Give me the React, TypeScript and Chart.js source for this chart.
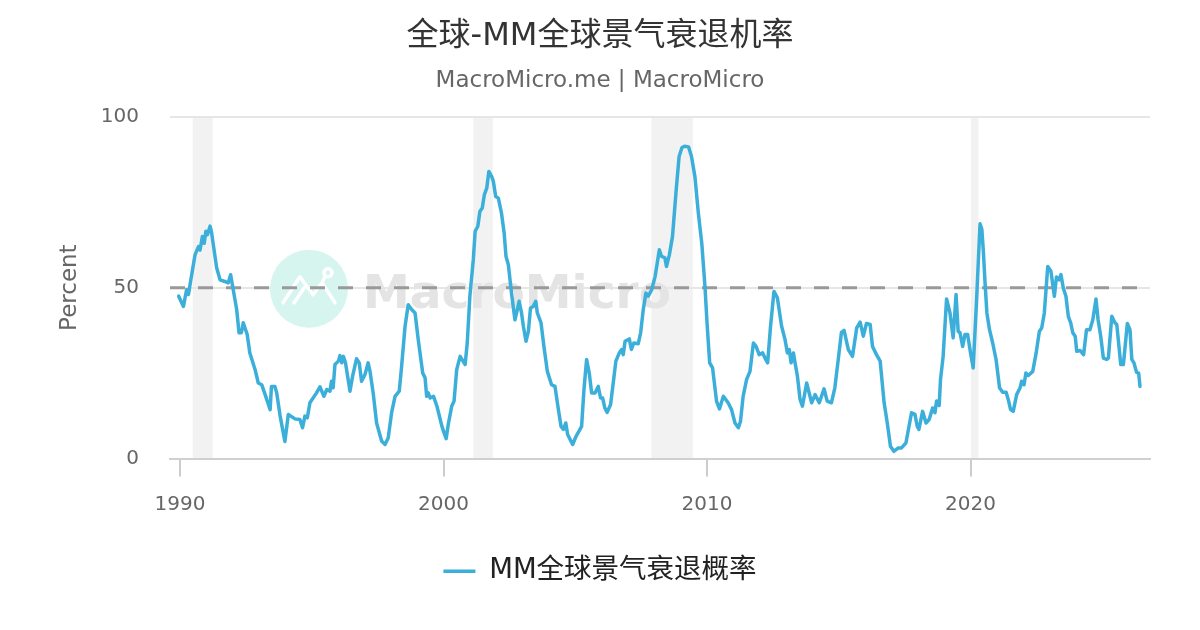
import { useEffect, useRef } from "react";
import Chart from "chart.js/auto";

// ─── Data ─────────────────────────────────────────────────────────────────────
const FONT = "'DejaVu Sans', 'Noto Sans CJK SC', sans-serif";

// decimal years
const dates = [
  1989.95, 1990.13, 1990.25, 1990.32, 1990.4, 1990.57, 1990.7, 1990.76, 1990.85, 1990.92,
  1990.98, 1991.04, 1991.14, 1991.2, 1991.39, 1991.52, 1991.7, 1991.83, 1991.92, 1992.02,
  1992.15, 1992.24, 1992.33, 1992.4, 1992.55, 1992.65, 1992.85, 1992.97, 1993.1, 1993.23,
  1993.42, 1993.47, 1993.6, 1993.67, 1993.8, 1993.98, 1994.11, 1994.36, 1994.55, 1994.65,
  1994.74, 1994.83, 1994.93, 1995.18, 1995.31, 1995.46, 1995.57, 1995.69, 1995.75, 1995.81,
  1995.88, 1996.01, 1996.07, 1996.14, 1996.2, 1996.28, 1996.45, 1996.55, 1996.7, 1996.8,
  1996.89, 1997.02, 1997.14, 1997.21, 1997.33, 1997.46, 1997.65, 1997.78, 1997.9, 1998.03,
  1998.16, 1998.32, 1998.41, 1998.54, 1998.66, 1998.79, 1998.92, 1999.04, 1999.21, 1999.3,
  1999.36, 1999.42, 1999.49, 1999.62, 1999.75, 1999.94, 2000.02, 2000.1, 2000.18, 2000.31,
  2000.4, 2000.5, 2000.63, 2000.82, 2000.9, 2001.0, 2001.13, 2001.2, 2001.3, 2001.38,
  2001.47, 2001.55, 2001.64, 2001.72, 2001.83, 2001.89, 2001.98, 2002.08, 2002.2, 2002.3,
  2002.37, 2002.46, 2002.58, 2002.71, 2002.8, 2002.87, 2002.96, 2003.03, 2003.13, 2003.22,
  2003.3, 2003.4, 2003.5, 2003.56, 2003.7, 2003.81, 2003.94, 2004.1, 2004.23, 2004.36,
  2004.46, 2004.55, 2004.64, 2004.71, 2004.9, 2005.03, 2005.24, 2005.33, 2005.43, 2005.53,
  2005.62, 2005.75, 2005.87, 2005.96, 2006.04, 2006.12, 2006.21, 2006.34, 2006.44, 2006.54,
  2006.67, 2006.76, 2006.82, 2006.89, 2007.05, 2007.13, 2007.22, 2007.39, 2007.48, 2007.58,
  2007.68, 2007.77, 2007.9, 2008.03, 2008.19, 2008.27, 2008.4, 2008.46, 2008.57, 2008.69,
  2008.82, 2008.94, 2009.05, 2009.15, 2009.3, 2009.41, 2009.54, 2009.67, 2009.8, 2009.92,
  2010.0, 2010.1, 2010.21, 2010.36, 2010.47, 2010.62, 2010.8, 2010.93, 2011.06, 2011.19,
  2011.27, 2011.37, 2011.5, 2011.63, 2011.76, 2011.86, 2011.98, 2012.11, 2012.2, 2012.3,
  2012.41, 2012.54, 2012.67, 2012.83, 2012.96, 2013.05, 2013.12, 2013.19, 2013.28, 2013.34,
  2013.43, 2013.53, 2013.62, 2013.78, 2013.97, 2014.1, 2014.26, 2014.44, 2014.56, 2014.72,
  2014.85, 2014.98, 2015.1, 2015.2, 2015.36, 2015.52, 2015.68, 2015.81, 2015.93, 2016.05,
  2016.19, 2016.28, 2016.43, 2016.57, 2016.72, 2016.84, 2016.96, 2017.09, 2017.26, 2017.38,
  2017.55, 2017.76, 2017.89, 2017.98, 2018.04, 2018.18, 2018.31, 2018.43, 2018.56, 2018.65,
  2018.71, 2018.81, 2018.86, 2018.96, 2019.09, 2019.22, 2019.34, 2019.45, 2019.53, 2019.6,
  2019.7, 2019.79, 2019.89, 2020.0, 2020.1, 2020.23, 2020.36, 2020.43, 2020.49, 2020.55,
  2020.62, 2020.72, 2020.84, 2020.97, 2021.1, 2021.22, 2021.35, 2021.43, 2021.52, 2021.62,
  2021.75, 2021.88, 2021.94, 2022.03, 2022.1, 2022.19, 2022.36, 2022.49, 2022.61, 2022.7,
  2022.8, 2022.93, 2023.05, 2023.18, 2023.26, 2023.36, 2023.43, 2023.52, 2023.62, 2023.71,
  2023.8, 2023.88, 2023.97, 2024.03, 2024.16, 2024.29, 2024.4, 2024.53, 2024.64, 2024.76,
  2024.84, 2024.94, 2025.04, 2025.17, 2025.23, 2025.36, 2025.48, 2025.55, 2025.7, 2025.8,
  2025.95, 2026.05, 2026.12, 2026.2, 2026.3, 2026.38, 2026.43,
];

const probability = [
  47.5, 44.5, 49.4, 48, 51.8, 59.6, 62, 61, 65, 63,
  66.5, 65.5, 68, 66, 55.8, 52.3, 51.8, 51.4, 53.8, 49.4,
  43.6, 36.8, 36.8, 39.7, 36.3, 30.9, 26, 22.1, 21.6, 18.7,
  14.3, 21.1, 21.1, 19.2, 12.4, 5, 12.9, 11.6, 11.4, 9,
  12.4, 11.9, 16.3, 19.2, 21, 18.2, 20.2, 19.7, 22.6, 20.7,
  27.5, 28.5, 30.1, 28, 29.9, 28, 19.7, 24.1, 29.2, 28,
  22.6, 24.6, 28, 25.5, 19.2, 10.4, 5.1, 4.1, 6, 13.4,
  18.2, 19.7, 27, 38.7, 45, 43.6, 42.6, 34.8, 25, 23.6,
  18.2, 19.2, 17.7, 18.2, 15.3, 9.4, 7.5, 5.8, 10, 15.3,
  16.8, 26, 29.9, 27.5, 33.8, 47.5, 58.2, 66.5, 67.9, 72.3,
  73.3, 77.2, 79.1, 84, 82.5, 81.1, 76.7, 76.2, 71.8, 66,
  59.2, 56.7, 48.4, 40.6, 43.6, 46, 42.6, 38.7, 34.3, 37.2,
  44, 44.5, 46, 42.6, 39.7, 32.8, 25.5, 21.6, 21.1, 14.3,
  9.4, 8.5, 10.4, 7, 4.1, 6.5, 9.4, 20.2, 29, 25,
  19.2, 19.2, 21.1, 17.7, 17.7, 14.8, 13.5, 15.8, 22.1, 28.5,
  30.9, 31.9, 30.4, 34.3, 35, 31.9, 33.8, 33.6, 36.8, 43.6,
  48.4, 47.5, 49.4, 53.3, 61.1, 59.2, 58.7, 56.2, 59.6, 65,
  77.7, 88.4, 91, 91.4, 91.2, 88.4, 82.5, 71.8, 63, 50.5,
  39.7, 28, 26.5, 16.8, 14.5, 18.2, 16.3, 14.3, 10.4, 9,
  10.9, 18.2, 23.1, 25.5, 33.8, 32.8, 30.4, 30.9, 29.4, 28,
  38.7, 48.9, 47, 38.7, 34.8, 30.9, 31.9, 28, 30.9, 28,
  24.1, 17.3, 15.3, 22.1, 16.3, 18.7, 16.3, 20.4, 16.8, 16.3,
  20.7, 29, 36.9, 37.5, 31.9, 29.9, 38.2, 39.9, 35.8, 39.5,
  39.2, 32.8, 30.4, 28.5, 16.3, 10.4, 3.6, 2.1, 3.1, 3.1,
  4.6, 13.4, 12.9, 9.3, 8.5, 13.8, 10.4, 11.4, 14.8, 13.4,
  16.8, 15.5, 23.1, 29.9, 46.7, 42.6, 35.3, 48, 37.2, 36.8,
  32.8, 36.3, 36.3, 30.9, 26.5, 46.5, 68.7, 67, 60.1, 51.4,
  42.6, 37.7, 33.8, 28.9, 20.7, 19.4, 19.4, 17.3, 14.3, 13.8,
  18.7, 20.7, 22.6, 21.6, 25, 24.3, 25.5, 30.9, 37.2, 38.2,
  42.6, 56.2, 54.8, 47.5, 53.1, 52.3, 53.8, 49.9, 47.5, 41.6,
  39.7, 36.8, 35.8, 31.4, 31.6, 30.4, 37.7, 37.7, 40.6, 46.7,
  40.6, 35.8, 29.4, 29, 29.4, 41.6, 39.7, 39.2, 27.5, 27.5,
  39.5, 37.7, 29, 28, 25.2, 25, 21.1,
];

// shaded recession periods
const recessionStart = [1990.48, 2001.13, 2007.89, 2020.02];
const recessionEnd   = [1991.24, 2001.87, 2009.46, 2020.3];

const xTicks = [1990, 2000, 2010, 2020];
const yTicks = [0, 50, 100];
const threshold = 50;

// ─── Plugin: bands, watermark, 50% line ───────────────────────────────────────
const decorations = {
  id: "decorations",
  beforeDraw(chart: any) {
    const { ctx, chartArea: a, scales } = chart;
    ctx.save();
    ctx.fillStyle = "#f2f2f2";
    recessionStart.forEach((s, i) => {
      const x0 = scales.x.getPixelForValue(s);
      const x1 = scales.x.getPixelForValue(recessionEnd[i]);
      ctx.fillRect(x0, a.top, x1 - x0, a.bottom - a.top);
    });
    ctx.restore();
  },
  beforeDatasetsDraw(chart: any) {
    const { ctx, chartArea: a, scales } = chart;
    ctx.save();

    // watermark logo
    const cx = a.left + 139, cy = a.top + 172;
    ctx.fillStyle = "#d6f5ee";
    ctx.beginPath();
    ctx.arc(cx, cy, 39, 0, Math.PI * 2);
    ctx.fill();
    ctx.strokeStyle = "#ffffff";
    ctx.lineWidth = 3.5;
    ctx.lineCap = "round";
    ctx.lineJoin = "round";
    ctx.beginPath();
    ctx.moveTo(cx - 26, cy + 14);
    ctx.lineTo(cx - 9, cy - 12);
    ctx.lineTo(cx + 4, cy + 6);
    ctx.lineTo(cx + 13, cy - 6);
    ctx.lineTo(cx + 26, cy + 14);
    ctx.moveTo(cx - 15, cy + 14);
    ctx.lineTo(cx - 4, cy - 2);
    ctx.moveTo(cx + 13, cy - 6);
    ctx.lineTo(cx + 16, cy - 12);
    ctx.stroke();
    ctx.beginPath();
    ctx.arc(cx + 19, cy - 16, 4, 0, Math.PI * 2);
    ctx.stroke();

    ctx.fillStyle = "#e3e4e3";
    ctx.font = `bold 47px ${FONT}`;
    ctx.textBaseline = "alphabetic";
    ctx.textAlign = "left";
    ctx.fillText("MacroMicro", a.left + 193, a.top + 191);

    // threshold line
    const y = scales.y.getPixelForValue(threshold);
    ctx.strokeStyle = "#999999";
    ctx.lineWidth = 3;
    ctx.lineCap = "butt";
    ctx.setLineDash([15, 13]);
    ctx.beginPath();
    ctx.moveTo(a.left, y);
    ctx.lineTo(a.right, y);
    ctx.stroke();
    ctx.restore();
  },
};

// ─── Component ────────────────────────────────────────────────────────────────
export function RecessionChart() {
  const canvasRef = useRef<HTMLCanvasElement | null>(null);
  const chartRef  = useRef<any>(null);

  useEffect(() => {
    if (!canvasRef.current) return;
    if (chartRef.current) chartRef.current.destroy();

    Chart.defaults.font.family = FONT;

    chartRef.current = new Chart(canvasRef.current, {
      type: "line",
      data: {
        datasets: [
          {
            label: "MM全球景气衰退概率",
            data: dates.map((d, i) => ({ x: d, y: probability[i] })),
            borderColor: "#3bafda",
            backgroundColor: "#3bafda",
            borderWidth: 3.5,
            borderJoinStyle: "round",
            borderCapStyle: "round",
            pointRadius: 0,
            tension: 0,
          },
        ],
      },
      options: {
        animation: false,
        responsive: true,
        maintainAspectRatio: false,
        layout: { padding: { left: 0, right: 0, top: 0, bottom: 35 } },
        plugins: {
          title: {
            display: true,
            text: "全球-MM全球景气衰退机率",
            color: "#333333",
            font: { family: FONT, size: 32, weight: "normal" },
            padding: { top: 17, bottom: 0 },
          },
          subtitle: {
            display: true,
            text: "MacroMicro.me | MacroMicro",
            color: "#666666",
            font: { family: FONT, size: 23, weight: "normal" },
            padding: { top: 11.5, bottom: 22.3 },
          },
          legend: {
            position: "bottom",
            labels: {
              usePointStyle: true,
              pointStyle: "line",
              pointStyleWidth: 32,
              color: "#222222",
              padding: 10,
              font: { family: FONT, size: 27.5 },
            },
          },
          tooltip: { enabled: false },
        },
        scales: {
          x: {
            type: "linear",
            min: 1989.62,
            max: 2026.81,
            afterBuildTicks: (scale: any) => { scale.ticks = xTicks.map((value) => ({ value })); },
            afterFit: (scale: any) => { scale.height = 89; },
            grid: { drawOnChartArea: false, drawTicks: true, tickLength: 18, color: "#cccccc", lineWidth: 2 },
            border: { color: "#d0d0d0", width: 2 },
            ticks: {
              color: "#666666",
              font: { family: FONT, size: 20 },
              padding: 16,
              maxRotation: 0,
              callback: (v: any) => String(v),
            },
          },
          y: {
            min: 0,
            max: 100,
            afterBuildTicks: (scale: any) => { scale.ticks = yTicks.map((value) => ({ value })); },
            afterFit: (scale: any) => { scale.width = 170; },
            grid: { color: "#e6e6e6", lineWidth: 2, drawTicks: false },
            border: { display: false },
            ticks: { color: "#666666", font: { family: FONT, size: 20 }, padding: 31 },
            title: {
              display: true,
              text: "Percent",
              color: "#666666",
              font: { family: FONT, size: 23 },
              padding: { top: 56, bottom: 0 },
            },
          },
          yRight: {
            position: "right",
            display: true,
            afterFit: (scale: any) => { scale.width = 50; },
            grid: { display: false },
            ticks: { display: false },
            border: { display: false },
          },
        },
      },
      plugins: [decorations],
    } as any);

    return () => { if (chartRef.current) chartRef.current.destroy(); };
  }, []);

  return (
    <>
      <style>{`
        body { margin: 0; background: #FFFFFF; }
      `}</style>
      <div style={{ position: "relative", width: 1200, height: 630 }}>
        <canvas ref={canvasRef} />
      </div>
    </>
  );
}

export default RecessionChart;
